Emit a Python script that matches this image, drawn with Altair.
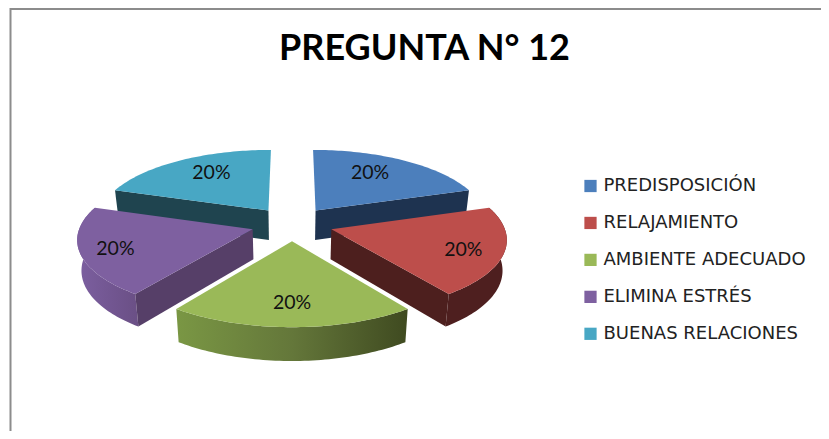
import math
import altair as alt
import pandas as pd

TITLE = "PREGUNTA N° 12"
CATEGORIES = ["PREDISPOSICIÓN", "RELAJAMIENTO", "AMBIENTE ADECUADO", "ELIMINA ESTRÉS", "BUENAS RELACIONES"]
SHARES = [20, 20, 20, 20, 20]
COLORS = ["#4C7FBC", "#BD4E4B", "#9AB958", "#7E60A0", "#48A7C4"]
LABEL_BEARING = [31, 111, 180, 251, 328]
LABEL_RADIUS = [119, 134, 128, 138, 121]
PAINT_ORDER = [0, 4, 1, 3, 2]

# projection of the exploded, tilted disc
CX, CY, R, EXPLODE, K, TILT = 292, 223.9, 172, 41, 0.0007, 0.4126
W, H = 813, 423


def project(u, v):
    s = 1 / (1 - K * v)
    return CX + u * s, CY + TILT * v * s, s


def slice_point(mid, bearing, r):
    u = EXPLODE * math.sin(mid) + r * math.sin(bearing)
    v = -EXPLODE * math.cos(mid) - r * math.cos(bearing)
    return project(u, v)


total = sum(SHARES)
edges = [0]
for share in SHARES:
    edges.append(edges[-1] + share / total * 2 * math.pi)


def top_face(i):
    a, b = edges[i], edges[i + 1]
    mid = (a + b) / 2
    pts = [slice_point(mid, 0, 0)]
    for j in range(61):
        pts.append(slice_point(mid, a + (b - a) * j / 60, R))
    pts.append(pts[0])
    return [(p[0], p[1]) for p in pts]


def lower(p):
    return (CX + (p[0] - CX) * 0.98, p[1] + 30 + 22 * (p[2] - 1))


def arc_wall(i):
    a, b = edges[i], edges[i + 1]
    mid = (a + b) / 2
    rim = [slice_point(mid, a + (b - a) * j / 60, R) for j in range(61)]
    pts = [(p[0], p[1]) for p in rim] + [lower(p) for p in reversed(rim)]
    return pts + [pts[0]]


def radial_wall(i, angle):
    mid = (edges[i] + edges[i + 1]) / 2
    p, q = slice_point(mid, 0, 0), slice_point(mid, angle, R)
    pts = [(p[0], p[1]), (q[0], q[1]), lower(q), lower(p)]
    return pts + [pts[0]]


def grad(*stops):
    n = len(stops) - 1
    return alt.LinearGradient(
        gradient="linear", x1=0, y1=0, x2=1, y2=0,
        stops=[alt.GradientStop(color=c, offset=k / n) for k, c in enumerate(stops)],
    )


X = alt.X("x:Q", scale=alt.Scale(domain=[8, 8 + W], nice=False, zero=False), axis=None)
Y = alt.Y("y:Q", scale=alt.Scale(domain=[8 + H, 8], nice=False, zero=False), axis=None)


def surface(pts, fill):
    df = pd.DataFrame({"x": [p[0] for p in pts], "y": [p[1] for p in pts], "i": range(len(pts))})
    return alt.Chart(df).mark_line(fill=fill, strokeOpacity=0, strokeWidth=0).encode(x=X, y=Y, order="i:Q")


WALLS = {
    0: [(radial_wall, edges[1], "#1E3350")],
    4: [(radial_wall, edges[4], "#1F444F")],
    1: [(arc_wall, None, "#4E1F1F"), (radial_wall, edges[2], "#4D1F1E")],
    3: [(arc_wall, None, grad("#7C5FA0", "#6A4F85")), (radial_wall, edges[3], "#563F68")],
    2: [(arc_wall, None, grad("#7A9744", "#64773A", "#3F4A20"))],
}

layers = []
border = pd.DataFrame({"x": [10.5, 10.5, 8 + W], "y": [8 + H, 9, 9], "i": [0, 1, 2]})
layers.append(alt.Chart(border).mark_line(color="#8C8C8C", strokeWidth=2).encode(x=X, y=Y, order="i:Q"))

for i in PAINT_ORDER:
    for fn, angle, fill in WALLS[i]:
        pts = arc_wall(i) if angle is None else radial_wall(i, angle)
        layers.append(surface(pts, fill))
    layers.append(surface(top_face(i), COLORS[i]))

lab = []
for i, cat in enumerate(CATEGORIES):
    mid = (edges[i] + edges[i + 1]) / 2
    px, py, _ = slice_point(mid, math.radians(LABEL_BEARING[i]), LABEL_RADIUS[i])
    lab.append({"x": px, "y": py, "cat": cat, "text": f"{SHARES[i]}%"})
lab = pd.DataFrame(lab)

layers.append(
    alt.Chart(lab).mark_text(font="Lato", fontSize=19.5, color="#111111", baseline="middle").encode(x=X, y=Y, text="text:N")
)
layers.append(
    alt.Chart(lab).mark_square(size=0, opacity=0).encode(
        x=X, y=Y,
        color=alt.Color(
            "cat:N",
            scale=alt.Scale(domain=CATEGORIES, range=COLORS),
            sort=CATEGORIES,
            legend=alt.Legend(
                title=None, orient="none", legendX=573.5, legendY=169,
                symbolType="square", symbolSize=150, symbolOpacity=1, symbolStrokeWidth=0,
                labelFont="DejaVu Sans", labelFontSize=18, labelColor="#222222", labelOffset=4,
                rowPadding=18.95, labelLimit=300,
            ),
        ),
    )
)

chart = alt.layer(*layers).properties(
    width=W, height=H,
    padding=0,
    autosize=alt.AutoSizeParams(type="none"),
    title=alt.TitleParams(
        TITLE, font="Lato", fontWeight="bold", fontSize=36, color="#000000",
        anchor="start", frame="group", offset=-63, dx=271,
    ),
).configure_view(stroke=None)

chart.save("out.html", embed_options={"renderer": "svg", "actions": False})
